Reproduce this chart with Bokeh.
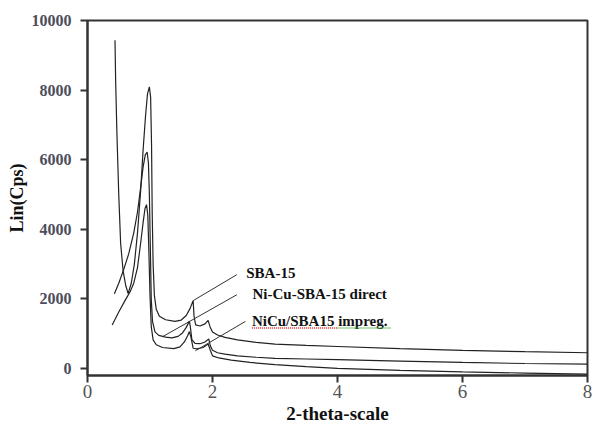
from bokeh.plotting import figure
from bokeh.models import Range1d, FixedTicker, Title
from bokeh.embed import file_html
from bokeh.resources import INLINE
from bokeh.core.properties import value

# ---- data ----
sba_x = [0.44, 0.45, 0.47, 0.50, 0.53, 0.57, 0.61, 0.65, 0.70, 0.75, 0.80, 0.85, 0.89, 0.93, 0.96, 0.99,
         1.01, 1.025, 1.035, 1.05, 1.07, 1.10, 1.15, 1.25, 1.40, 1.50, 1.58, 1.64, 1.69, 1.705, 1.73,
         1.80, 1.88, 1.93, 1.96, 2.00, 2.08, 2.2, 2.4, 2.7, 3.0, 3.5, 4.0, 5.0, 6.0, 7.0, 8.0]
sba_y = [9440, 8300, 6800, 5000, 3600, 2800, 2400, 2150, 2450, 3000, 3900, 5100, 6300, 7300, 7900, 8100,
         7800, 6400, 4500, 3000, 2100, 1700, 1500, 1400, 1350, 1390, 1520, 1720, 1950, 1500, 1250,
         1220, 1280, 1380, 1200, 1050, 960, 890, 820, 750, 700, 660, 630, 570, 520, 480, 450]

direct_x = [0.43, 0.50, 0.58, 0.66, 0.74, 0.80, 0.85, 0.89, 0.925, 0.955, 0.975, 0.99, 1.005, 1.02, 1.04,
            1.08, 1.14, 1.25, 1.35, 1.45, 1.52, 1.58, 1.63, 1.645, 1.67, 1.72, 1.80, 1.88, 1.94, 1.965,
            2.00, 2.08, 2.2, 2.4, 2.7, 3.0, 3.5, 4.0, 5.0, 6.0, 7.0, 8.0]
direct_y = [2150, 2450, 2850, 3300, 3900, 4500, 5200, 5800, 6150, 6220, 5900, 5000, 3500, 2000, 1350,
            1050, 950, 900, 880, 920, 1020, 1180, 1360, 1200, 830, 720, 710, 760, 850, 650,
            520, 450, 410, 360, 320, 290, 270, 250, 210, 170, 140, 120]

impreg_x = [0.395, 0.5, 0.6, 0.68, 0.74, 0.80, 0.85, 0.89, 0.92, 0.945, 0.965, 0.98, 1.0, 1.02, 1.05,
            1.1, 1.2, 1.38, 1.48, 1.55, 1.60, 1.63, 1.655, 1.69, 1.75, 1.85, 1.93, 1.965, 2.0, 2.1,
            2.3, 2.6, 3.0, 3.5, 4.0, 5.0, 6.0, 7.0, 8.0]
impreg_y = [1250, 1620, 1950, 2200, 2450, 2900, 3600, 4200, 4600, 4710, 4400, 3500, 2100, 1200, 820,
            680, 600, 570, 620, 760, 930, 1060, 900, 580, 560, 600, 700, 520, 360, 300,
            240, 170, 110, 50, 0, -60, -100, -135, -165]

x_ticks = [0, 2, 4, 6, 8]
y_ticks = [0, 2000, 4000, 6000, 8000, 10000]

labels = ["SBA-15", "Ni-Cu-SBA-15 direct", "NiCu/SBA15 impreg."]
label_x = [2.54, 2.64, 2.63]
label_y = [2740, 2151, 1354]
lead_x0 = [1.69, 1.194, 1.726]
lead_y0 = [1949, 905, 506]
lead_x1 = [2.39, 2.39, 2.526]
lead_y1 = [2697, 2119, 1351]

FONT = "'Liberation Serif', serif"

p = figure(width=593, height=423, output_backend="svg", toolbar_location=None,
           x_range=Range1d(0, 8), y_range=Range1d(-205, 10010),
           min_border_left=87, min_border_right=6, min_border_top=20, min_border_bottom=44)
p.grid.visible = False
p.outline_line_color = "#333333"
p.outline_line_width = 2
p.background_fill_color = "white"
p.border_fill_color = "white"

for ax in (p.xaxis[0], p.yaxis[0]):
    ax.axis_line_color = "#333333"
    ax.axis_line_width = 2
    ax.major_tick_line_color = "#333333"
    ax.major_tick_line_width = 2
    ax.major_tick_out = 7
    ax.major_tick_in = 0
    ax.minor_tick_line_color = None
    ax.major_label_text_font = FONT

p.xaxis.ticker = FixedTicker(ticks=x_ticks)
p.yaxis.ticker = FixedTicker(ticks=y_ticks)
p.xaxis.major_label_text_font_size = "19px"
p.xaxis.major_label_text_color = "#555555"
p.xaxis.major_label_standoff = 2
p.yaxis.major_label_text_font_size = "16px"
p.yaxis.major_label_text_font_style = "bold"
p.yaxis.major_label_text_color = "#4d4d5c"
p.yaxis.major_label_standoff = 9

p.yaxis.axis_label = "Lin(Cps)"
p.yaxis.axis_label_text_font = FONT
p.yaxis.axis_label_text_font_style = "bold"
p.yaxis.axis_label_text_font_size = "18px"
p.yaxis.axis_label_text_color = "#111111"
p.yaxis.axis_label_standoff = 2

p.add_layout(Title(text="2-theta-scale", align="center", offset=18, text_font=FONT,
                   text_font_style="bold", text_font_size="19px", text_color="#111111",
                   standoff=0), "below")

for xs, ys in ((sba_x, sba_y), (direct_x, direct_y), (impreg_x, impreg_y)):
    p.line(xs, ys, line_color="#222222", line_width=1.2)

p.segment(lead_x0, lead_y0, lead_x1, lead_y1, line_color="#333333", line_width=1)
p.text(label_x, label_y, text=labels, text_font=value(FONT), text_font_style="bold",
       text_font_size="15px", text_baseline="middle", text_align="left", text_color="#111111")

# spell-check squiggles under the third label
p.line([2.63, 4.0], [1161, 1161], line_color="#e03030", line_width=1.4, line_dash="1 1")
p.line([4.0, 4.86], [1161, 1161], line_color="#40b040", line_width=1.4, line_dash="1 1")

open("out.html", "w").write(file_html(p, INLINE))
